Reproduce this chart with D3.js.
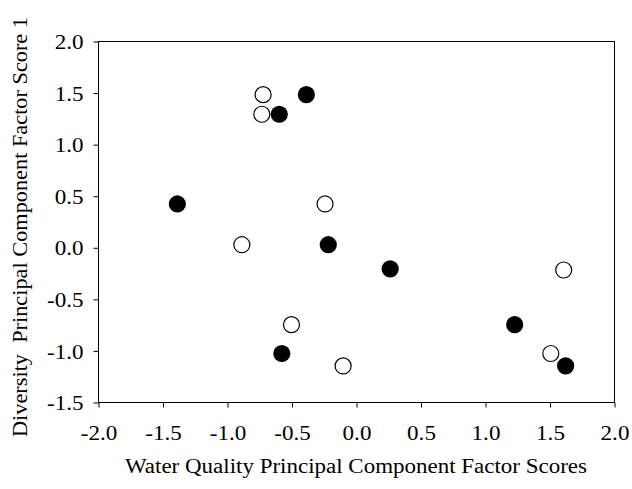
<!DOCTYPE html>
<html>
<head>
<meta charset="utf-8">
<script src="https://cdn.jsdelivr.net/npm/d3@7/dist/d3.min.js"></script>
<style>
  html, body { margin: 0; padding: 0; background: #fff; }
  svg { display: block; }
  text { font-family: "Liberation Serif", "Times New Roman", serif; fill: #000; }
</style>
</head>
<body>
<svg id="chart" width="632" height="489"></svg>
<script>
// Data
const openX   = [-0.72, -0.73, -0.24, -0.885, 1.61, 1.51, -0.50, -0.10];
const openY   = [1.48, 1.29, 0.42, 0.025, -0.22, -1.03, -0.75, -1.15];
const filledX = [-0.385, -0.595, -1.385, -0.215, 0.265, 1.23, 1.625, -0.575];
const filledY = [1.48, 1.29, 0.42, 0.025, -0.21, -0.75, -1.15, -1.03];
const xTicks = [-2.0, -1.5, -1.0, -0.5, 0.0, 0.5, 1.0, 1.5, 2.0];
const yTicks = [-1.5, -1.0, -0.5, 0.0, 0.5, 1.0, 1.5, 2.0];
const xTitle = "Water Quality Principal Component Factor Scores";
const yTitle = "Diversity\u00A0\u00A0Principal Component Factor Score 1";

const svg = d3.select("#chart");
const L = 98, R = 614, T = 41, B = 402;
const x = d3.scaleLinear().domain([-2, 2]).range([L, R]);
const y = d3.scaleLinear().domain([-1.5, 2]).range([B, T]);

// frame
svg.append("rect").attr("x", L + 0.5).attr("y", T + 0.5)
  .attr("width", R - L).attr("height", B - T)
  .attr("fill", "none").attr("stroke", "#000").attr("stroke-width", 1);

const fmt = d => d3.format(".1f")(d).replace("\u2212", "-");
const SX = 1.1;
const xAxis = svg.append("g").attr("transform", `translate(0.5,${B + 0.5})`)
  .call(d3.axisBottom(x).tickValues(xTicks).tickFormat(fmt).tickSize(5));
const yAxis = svg.append("g").attr("transform", `translate(${L + 0.5},0.5)`)
  .call(d3.axisLeft(y).tickValues(yTicks).tickFormat(fmt).tickSize(5));
[xAxis, yAxis].forEach(g => {
  g.select(".domain").remove();
  g.selectAll("line").attr("stroke", "#000");
  g.selectAll("text").style("font-family", '"Liberation Serif", serif')
    .style("font-size", "21px").attr("fill", "#000");
});
xAxis.selectAll("text").attr("y", 37.5).attr("dy", null)
  .attr("transform", `scale(${SX},1)`);
yAxis.selectAll("text").attr("x", -15 / SX).attr("dy", "0.34em")
  .attr("transform", `scale(${SX},1)`);

// points
svg.append("g").selectAll("circle").data(openX.map((d, i) => [d, openY[i]]))
  .join("circle")
  .attr("cx", d => x(d[0])).attr("cy", d => y(d[1])).attr("r", 8)
  .attr("fill", "#fff").attr("stroke", "#000").attr("stroke-width", 1.2);
svg.append("g").selectAll("circle").data(filledX.map((d, i) => [d, filledY[i]]))
  .join("circle")
  .attr("cx", d => x(d[0])).attr("cy", d => y(d[1])).attr("r", 8.6)
  .attr("fill", "#000").attr("stroke", "none");

// titles
svg.append("text").attr("x", 356).attr("y", 473)
  .attr("text-anchor", "middle").style("font-size", "20px")
  .attr("textLength", 462).attr("lengthAdjust", "spacingAndGlyphs").text(xTitle);
svg.append("text").attr("transform", `translate(27,227) rotate(-90)`)
  .attr("text-anchor", "middle").style("font-size", "20px")
  .attr("textLength", 420).attr("lengthAdjust", "spacingAndGlyphs").text(yTitle);
</script>
</body>
</html>
